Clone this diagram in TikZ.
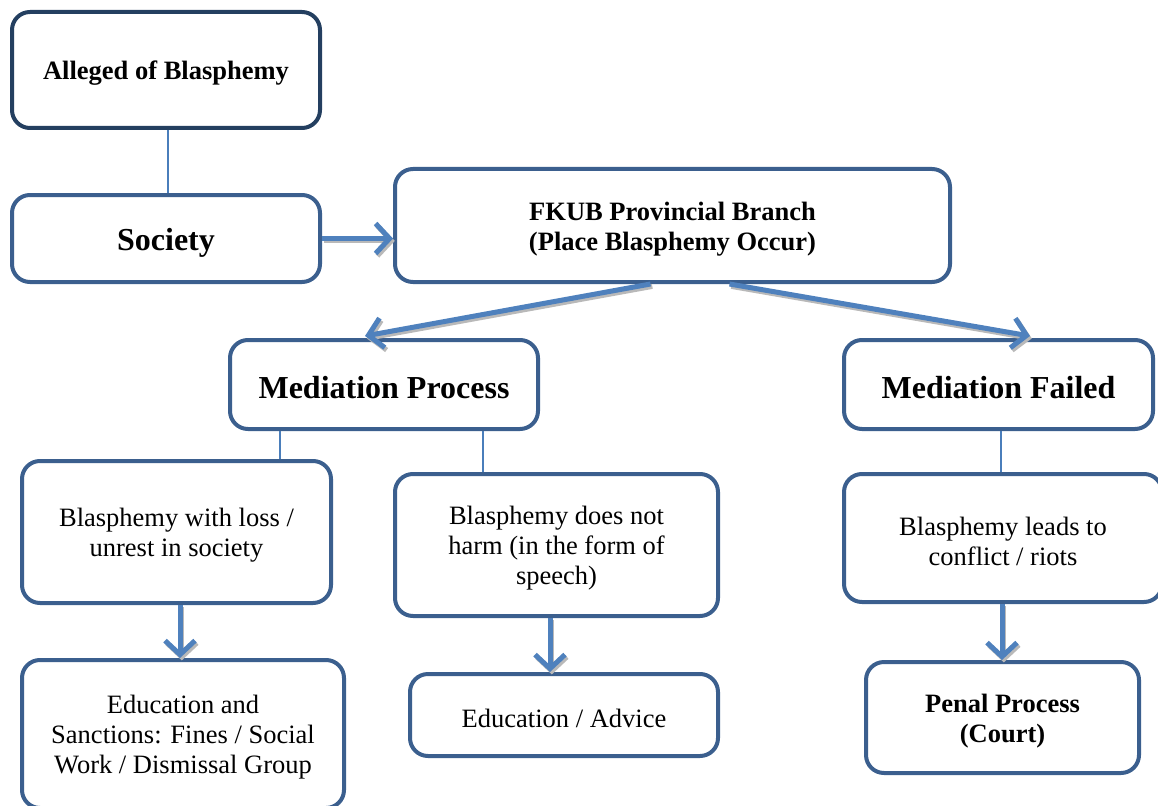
\documentclass[tikz,border=0pt]{standalone}
\usepackage{fontspec}
\setmainfont{Liberation Serif}
\usetikzlibrary{arrows.meta}
\definecolor{boxblue}{HTML}{3B5F8E}
\definecolor{darkblue}{HTML}{243F60}
\definecolor{arrowblue}{HTML}{4F81BD}
\definecolor{lineblue}{HTML}{4A7EBB}
\newcommand\dnstrut{\rule{0pt}{25pt}}
\begin{document}
\begin{tikzpicture}[x=1pt,y=-1pt,
  box/.style={draw=boxblue, line width=4pt, rounded corners=18pt, fill=white, align=center, inner sep=0pt},
  darkbox/.style={box, draw=darkblue},
  bsmall/.style={font=\fontsize{26.5}{30}\selectfont\bfseries},
  bbig/.style={font=\fontsize{32}{36}\selectfont\bfseries},
  rtext/.style={font=\fontsize{26.5}{30}\selectfont},
  arr/.style={draw=arrowblue, line width=5pt, -{Straight Barb[length=14pt,width=30pt]}},
  shad/.style={draw=gray!55, line width=5pt, -{Straight Barb[length=14pt,width=30pt]}, transform canvas={shift={(1.8pt,-2.4pt)}}},
  thin/.style={draw=lineblue, line width=1.3pt}
]
\useasboundingbox (0,0) rectangle (1158,805);

\node[darkbox, bsmall, minimum width=308pt, minimum height=116pt] (alleged) at (166,70) {\dnstrut Alleged of Blasphemy};
\node[box, bbig, minimum width=308pt, minimum height=87pt] (society) at (166,238.5) {\rule{0pt}{31pt}Society};
\node[box, bsmall, minimum width=555pt, minimum height=113pt] (fkub) at (672.5,225.5) {\dnstrut FKUB Provincial Branch\\(Place Blasphemy Occur)};
\node[box, bbig, minimum width=308pt, minimum height=89pt] (mp) at (384,384.5) {\rule{0pt}{29pt}Mediation Process};
\node[box, bbig, minimum width=309pt, minimum height=89pt] (mf) at (998.5,384.5) {\rule{0pt}{29pt}Mediation Failed};
\node[box, rtext, minimum width=309pt, minimum height=142pt] (loss) at (176.5,532) {\dnstrut Blasphemy with loss /\\unrest in society};
\node[box, rtext, minimum width=323pt, minimum height=142pt] (dnh) at (556.5,545) {\dnstrut Blasphemy does not\\harm (in the form of\\speech)};
\node[box, rtext, minimum width=318pt, minimum height=128pt] (leads) at (1003,538) {\dnstrut Blasphemy leads to\\conflict / riots};
\node[box, rtext, minimum width=322pt, minimum height=148pt] (edu) at (183,734) {\dnstrut Education and\\Sanctions: Fines / Social\\Work / Dismissal Group};
\node[box, rtext, minimum width=308pt, minimum height=82pt] (adv) at (564,715) {\dnstrut Education / Advice};
\node[box, bsmall, minimum width=273pt, minimum height=111pt] (penal) at (1002.5,717.5) {\dnstrut Penal Process\\(Court)};

% thin connectors
\draw[thin] ([xshift=2pt]alleged.south) -- ([xshift=2pt]alleged.south |- society.north);
\draw[thin] ([xshift=-104pt]mp.south) -- ([xshift=-104pt]mp.south |- loss.north);
\draw[thin] ([xshift=99pt]mp.south) -- ([xshift=99pt]mp.south |- dnh.north);
\draw[thin] ([xshift=2.5pt]mf.south) -- ([xshift=2.5pt]mf.south |- leads.north);

% thick arrows (shadow then arrow)
\draw[shad] (society.east) -- (society.east -| fkub.west);
\draw[arr]  (society.east) -- (society.east -| fkub.west);
\draw[shad] ([xshift=-22pt]fkub.south) -- ([xshift=-19pt,yshift=2pt]mp.north);
\draw[arr]  ([xshift=-22pt]fkub.south) -- ([xshift=-19pt,yshift=2pt]mp.north);
\draw[shad] ([xshift=57pt]fkub.south) -- ([xshift=31.5pt,yshift=2pt]mf.north);
\draw[arr]  ([xshift=57pt]fkub.south) -- ([xshift=31.5pt,yshift=2pt]mf.north);
\draw[shad] ([xshift=3.5pt]loss.south) -- ([xshift=3.5pt]loss.south |- edu.north);
\draw[arr]  ([xshift=3.5pt]loss.south) -- ([xshift=3.5pt]loss.south |- edu.north);
\draw[shad] ([xshift=-6.5pt]dnh.south) -- ([xshift=-6.5pt]dnh.south |- adv.north);
\draw[arr]  ([xshift=-6.5pt]dnh.south) -- ([xshift=-6.5pt]dnh.south |- adv.north);
\draw[shad] ([xshift=-1pt]leads.south) -- ([xshift=-1pt]leads.south |- penal.north);
\draw[arr]  ([xshift=-1pt]leads.south) -- ([xshift=-1pt]leads.south |- penal.north);
\end{tikzpicture}
\end{document}
